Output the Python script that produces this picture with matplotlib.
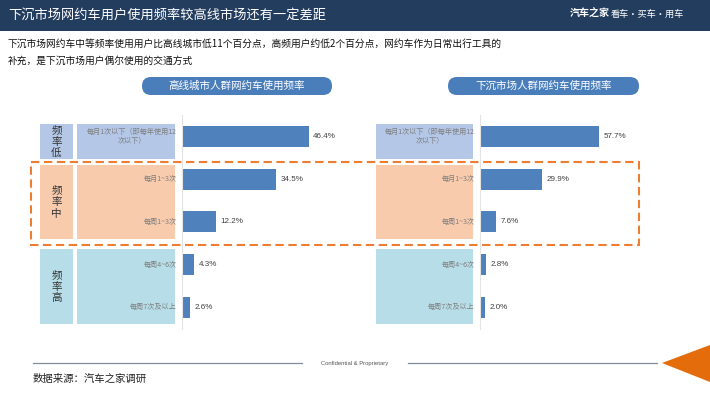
import matplotlib
matplotlib.use('Agg')
import matplotlib.pyplot as plt
from matplotlib.patches import Rectangle, FancyBboxPatch, Polygon
from matplotlib.transforms import blended_transform_factory

plt.rcParams['font.family'] = ['Noto Sans CJK SC', 'DejaVu Sans']

# =============================================================================
# data
# =============================================================================
title = '下沉市场网约车用户使用频率较高线市场还有一定差距'
subtitle = ('下沉市场网约车中等频率使用用户比高线城市低11个百分点，高频用户约低2个百分点，网约车作为日常出行工具的\n'
            '补充，是下沉市场用户偶尔使用的交通方式')
categories = ['每月1次以下（即每年使用12\n次以下）', '每月1~3次', '每周1~3次', '每周4~6次', '每周7次及以上']
groups = ['频\n率\n低', '频\n率\n中', '频\n率\n高']
group_rows = [(-0.29, 0.53), (0.67, 2.40), (2.64, 4.39)]   # box extents in row units
group_colors = ['#B4C7E7', '#F8CBAD', '#B7DEE8']

high_tier_title = '高线城市人群网约车使用频率'
high_tier = [46.4, 34.5, 12.2, 4.3, 2.6]
low_tier_title = '下沉市场人群网约车使用频率'
low_tier = [57.7, 29.9, 7.6, 2.8, 2.0]

source = '数据来源：汽车之家调研'

W, H = 710, 399
BAR = '#4F81BD'

fig = plt.figure(figsize=(W / 100, H / 100), dpi=100)

# background axes in pixel coords
bg = fig.add_axes([0, 0, 1, 1])
bg.set_xlim(0, W)
bg.set_ylim(H, 0)
bg.axis('off')

# header
bg.add_patch(Rectangle((0, 0), W, 31, color='#233D5F', lw=0))
bg.text(8, 15.5, title, color='white', fontsize=9.5, va='center', ha='left')
bg.text(570, 14, '汽车之家', color='white', fontsize=7.2, va='center', ha='left', fontweight='bold')
bg.text(611, 14, '看车·买车·用车', color='white', fontsize=6.6, va='center', ha='left')

bg.text(8, 52.5, subtitle, color='#111111', fontsize=7.0, va='center', ha='left', linespacing=1.8)


def pix_axes(x0, x1, y0, y1):
    return fig.add_axes([x0 / W, 1 - y1 / H, (x1 - x0) / W, (y1 - y0) / H])


def panel(values, head, pill_x, axis_x, box_x, px_per_pct, right_end):
    # pill header
    bg.add_patch(FancyBboxPatch((pill_x[0], 77), pill_x[1] - pill_x[0], 18,
                                boxstyle='round,pad=0,rounding_size=9',
                                fc='#4A7EBB', ec='none'))
    bg.text(sum(pill_x) / 2, 86, head, color='white', fontsize=7.6, ha='center', va='center')

    ax = pix_axes(axis_x, right_end, 115, 328.75)
    ax.patch.set_alpha(0)
    ax.set_xlim(0, (right_end - axis_x) / px_per_pct)
    ax.set_ylim(len(values) - 0.5, -0.5)
    y = range(len(values))
    ax.barh(y, values, height=0.49, color=BAR, left=0.3)
    for yi, v in zip(y, values):
        ax.text(v + 0.3 + 4.5 / px_per_pct, yi, f'{v:.1f}%', va='center', ha='left',
                fontsize=5.8, color='#404040', family=['Liberation Sans'])
    for s in ['top', 'right', 'bottom']:
        ax.spines[s].set_visible(False)
    ax.spines['left'].set_color('#E3E3E3')
    ax.set_xticks([])
    ax.set_yticks([])

    trans = blended_transform_factory(bg.transData, ax.transData)
    for (r0, r1), c in zip(group_rows, group_colors):
        ax.add_patch(Rectangle((box_x[0], r0), box_x[1] - box_x[0], r1 - r0,
                               transform=trans, fc=c, ec='none', clip_on=False))
    for yi, cat in zip(y, categories):
        ax.text(box_x[1] + 1.5, yi, cat, transform=trans, ha='right', va='center',
                multialignment='center', fontsize=5.1, color='#7F7F7F', linespacing=1.15)
    return ax, trans


axL, transL = panel(high_tier, high_tier_title, (142, 332), 182, (77, 175), 2.71, 360)
axR, transR = panel(low_tier, low_tier_title, (448, 639), 480, (376, 473), 2.06, 640)

# group boxes for the left panel
for (r0, r1), c, g in zip(group_rows, group_colors, groups):
    axL.add_patch(Rectangle((40, r0), 33, r1 - r0, transform=transL,
                            fc=c, ec='none', clip_on=False))
    axL.text(56.5, (r0 + r1) / 2, g, transform=transL, ha='center', va='center',
             fontsize=7.6, color='#333333', linespacing=1.2)

# dashed highlight of the middle-frequency rows
top = fig.add_axes([0, 0, 1, 1])
top.set_xlim(0, W)
top.set_ylim(H, 0)
top.axis('off')
top.add_patch(Rectangle((31, 162), 608, 83, fill=False, ec='#ED7D31',
                        lw=1.5, ls=(0, (4, 2.2))))

# footer
bg.plot([33, 302], [363, 363], color='#7F8C99', lw=0.9)
bg.plot([408, 657], [363, 363], color='#7F8C99', lw=0.9)
bg.text(321, 363.5, 'Confidential & Proprietary', fontsize=4.2, color='#555555',
        va='center', ha='left', family=['Liberation Sans'])
bg.add_patch(Polygon([[662, 363], [710, 345], [710, 382]], closed=True, fc='#E46C0A', ec='none'))
bg.text(33, 379, source, fontsize=7.5, color='#222222', va='center', ha='left')

fig.savefig('out.png', dpi=100)
